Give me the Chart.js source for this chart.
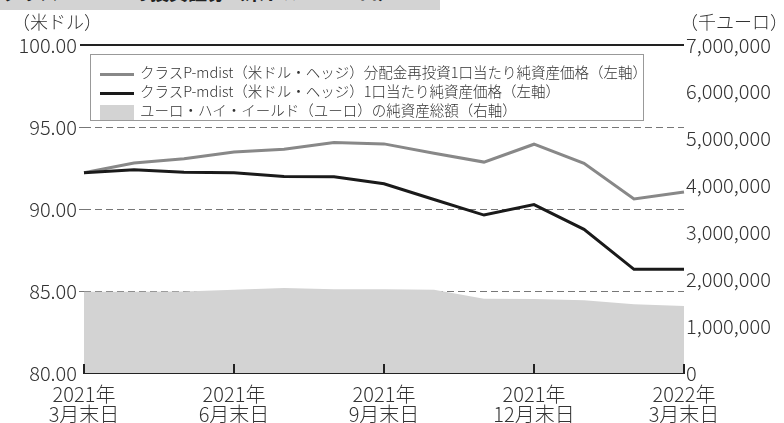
<!DOCTYPE html>
<html>
<head>
<meta charset="utf-8">
<script src="https://cdn.jsdelivr.net/npm/chart.js@4"></script>
<style>
  html, body { margin: 0; padding: 0; background: #fff; }
  #wrap { position: relative; width: 784px; height: 423px; overflow: hidden; font-family: "Noto Sans CJK JP", "Noto Sans", sans-serif; color: #333; font-weight: 300; }
  #banner { position: absolute; left: 0; top: 0; width: 440px; height: 10px; background: #d3d3d3; overflow: hidden; }
  #banner span { position: absolute; left: 2px; top: -22px; font-size: 19px; font-weight: bold; color: #222; white-space: nowrap; }
  .unit { position: absolute; top: 8px; font-size: 18px; }
  #legend { position: absolute; left: 90px; top: 54px; width: 554px; height: 67px; border: 1px solid #999; background: #fff; box-sizing: border-box; }
  .row { position: absolute; left: 9px; height: 19px; font-size: 14.5px; line-height: 19px; white-space: nowrap; }
  .sym { display: inline-block; width: 34px; vertical-align: middle; margin-right: 6px; }
</style>
</head>
<body>
<div id="wrap">
  <canvas id="navChart" width="784" height="423"></canvas>
  <div id="banner"><span>クラスP-mdistの投資証券（米ドル・ユーロ）</span></div>
  <div class="unit" style="left:12px">（米ドル）</div>
  <div class="unit" style="left:680px">（千ユーロ）</div>
  <div id="legend"></div>
</div>
<script>
// month-end labels, Mar 2021 .. Mar 2022
const monthLabels = [
  ['2021年', '3月末日'], ['2021年', '4月末日'], ['2021年', '5月末日'],
  ['2021年', '6月末日'], ['2021年', '7月末日'], ['2021年', '8月末日'],
  ['2021年', '9月末日'], ['2021年', '10月末日'], ['2021年', '11月末日'],
  ['2021年', '12月末日'], ['2022年', '1月末日'], ['2022年', '2月末日'],
  ['2022年', '3月末日']
];

// NAV per unit with distributions reinvested (USD, left axis)
const navReinvested = [92.21, 92.80, 93.07, 93.47, 93.65, 94.06, 93.97, 93.40, 92.86, 93.95, 92.79, 90.61, 91.03];
// NAV per unit (USD, left axis)
const navPerUnit = [92.21, 92.40, 92.24, 92.21, 91.98, 91.96, 91.54, 90.58, 89.63, 90.27, 88.76, 86.32, 86.32];
// total net assets of the fund (thousand EUR, right axis)
const totalAssets = [1735000, 1735000, 1740000, 1775000, 1815000, 1790000, 1790000, 1775000, 1585000, 1580000, 1550000, 1465000, 1430000];

const seriesNames = [
  'クラスP-mdist（米ドル・ヘッジ）分配金再投資1口当たり純資産価格（左軸）',
  'クラスP-mdist（米ドル・ヘッジ）1口当たり純資産価格（左軸）',
  'ユーロ・ハイ・イールド（ユーロ）の純資産総額（右軸）'
];

const textColor = '#333';
const font = { family: '"Noto Sans CJK JP", "Noto Sans", sans-serif', size: 20, weight: '300' };

// solid line at 100 and upward tick marks on the baseline
const framePlugin = {
  id: 'frame',
  afterDatasetsDraw(chart) {
    const { ctx, chartArea, scales } = chart;
    ctx.save();
    ctx.strokeStyle = '#222';
    ctx.lineWidth = 2;
    ctx.beginPath();
    ctx.moveTo(chartArea.left - 4, scales.y.getPixelForValue(100));
    ctx.lineTo(chartArea.right, scales.y.getPixelForValue(100));
    ctx.stroke();
    ctx.beginPath();
    monthLabels.forEach((_, i) => {
      if (i % 3 !== 0) return;
      const x = scales.x.getPixelForValue(i);
      ctx.moveTo(x, chartArea.bottom);
      ctx.lineTo(x, chartArea.bottom - 9);
    });
    ctx.stroke();
    ctx.restore();
  }
};

const chart = new Chart(document.getElementById('navChart'), {
  type: 'line',
  data: {
    labels: monthLabels,
    datasets: [
      {
        label: seriesNames[0],
        data: navReinvested,
        yAxisID: 'y',
        borderColor: '#888',
        borderWidth: 3,
        pointRadius: 0,
        tension: 0,
        order: 1
      },
      {
        label: seriesNames[1],
        data: navPerUnit,
        yAxisID: 'y',
        borderColor: '#1a1a1a',
        borderWidth: 3,
        pointRadius: 0,
        tension: 0,
        order: 0
      },
      {
        label: seriesNames[2],
        data: totalAssets,
        yAxisID: 'y1',
        borderWidth: 0,
        backgroundColor: '#d3d3d3',
        fill: 'origin',
        pointRadius: 0,
        tension: 0,
        order: 2
      }
    ]
  },
  options: {
    responsive: false,
    animation: false,
    layout: { padding: { top: 45, left: 0, right: 0, bottom: 0 } },
    plugins: { legend: { display: false }, tooltip: { enabled: false } },
    scales: {
      x: {
        offset: false,
        grid: { display: false },
        border: { display: true, color: '#222', width: 2 },
        ticks: {
          autoSkip: false,
          maxRotation: 0,
          padding: 4,
          color: textColor,
          font: Object.assign({}, font, { lineHeight: 0.97 }),
          callback: (v, i) => (i % 3 === 0 ? monthLabels[i] : '')
        },
        afterFit: s => { s.height = 50; }
      },
      y: {
        position: 'left',
        min: 80,
        max: 100,
        ticks: {
          stepSize: 5,
          padding: 2,
          color: textColor,
          font: font,
          callback: v => v.toFixed(2)
        },
        grid: {
          color: c => (c.tick && c.tick.value > 80 && c.tick.value < 100 ? '#777' : 'rgba(0,0,0,0)'),
          lineWidth: 1,
          tickLength: 5
        },
        border: { display: false, dash: [7, 4] },
        afterFit: s => { s.width = 84; }
      },
      y1: {
        position: 'right',
        min: 0,
        max: 7000000,
        ticks: {
          stepSize: 1000000,
          padding: 2,
          color: textColor,
          font: font,
          callback: v => v.toLocaleString('en-US')
        },
        grid: { display: false, drawTicks: false },
        border: { display: false },
        afterFit: s => { s.width = 100; }
      }
    }
  },
  plugins: [framePlugin]
});

// legend box built from the datasets
const legend = document.getElementById('legend');
chart.data.datasets.forEach((ds, i) => {
  const row = document.createElement('div');
  row.className = 'row';
  row.style.top = (7 + i * 19) + 'px';
  const sym = document.createElement('span');
  sym.className = 'sym';
  if (ds.fill) {
    sym.style.height = '15px';
    sym.style.background = ds.backgroundColor;
  } else {
    sym.style.height = '3px';
    sym.style.background = ds.borderColor;
  }
  row.appendChild(sym);
  row.appendChild(document.createTextNode(ds.label));
  legend.appendChild(row);
});
</script>
</body>
</html>
